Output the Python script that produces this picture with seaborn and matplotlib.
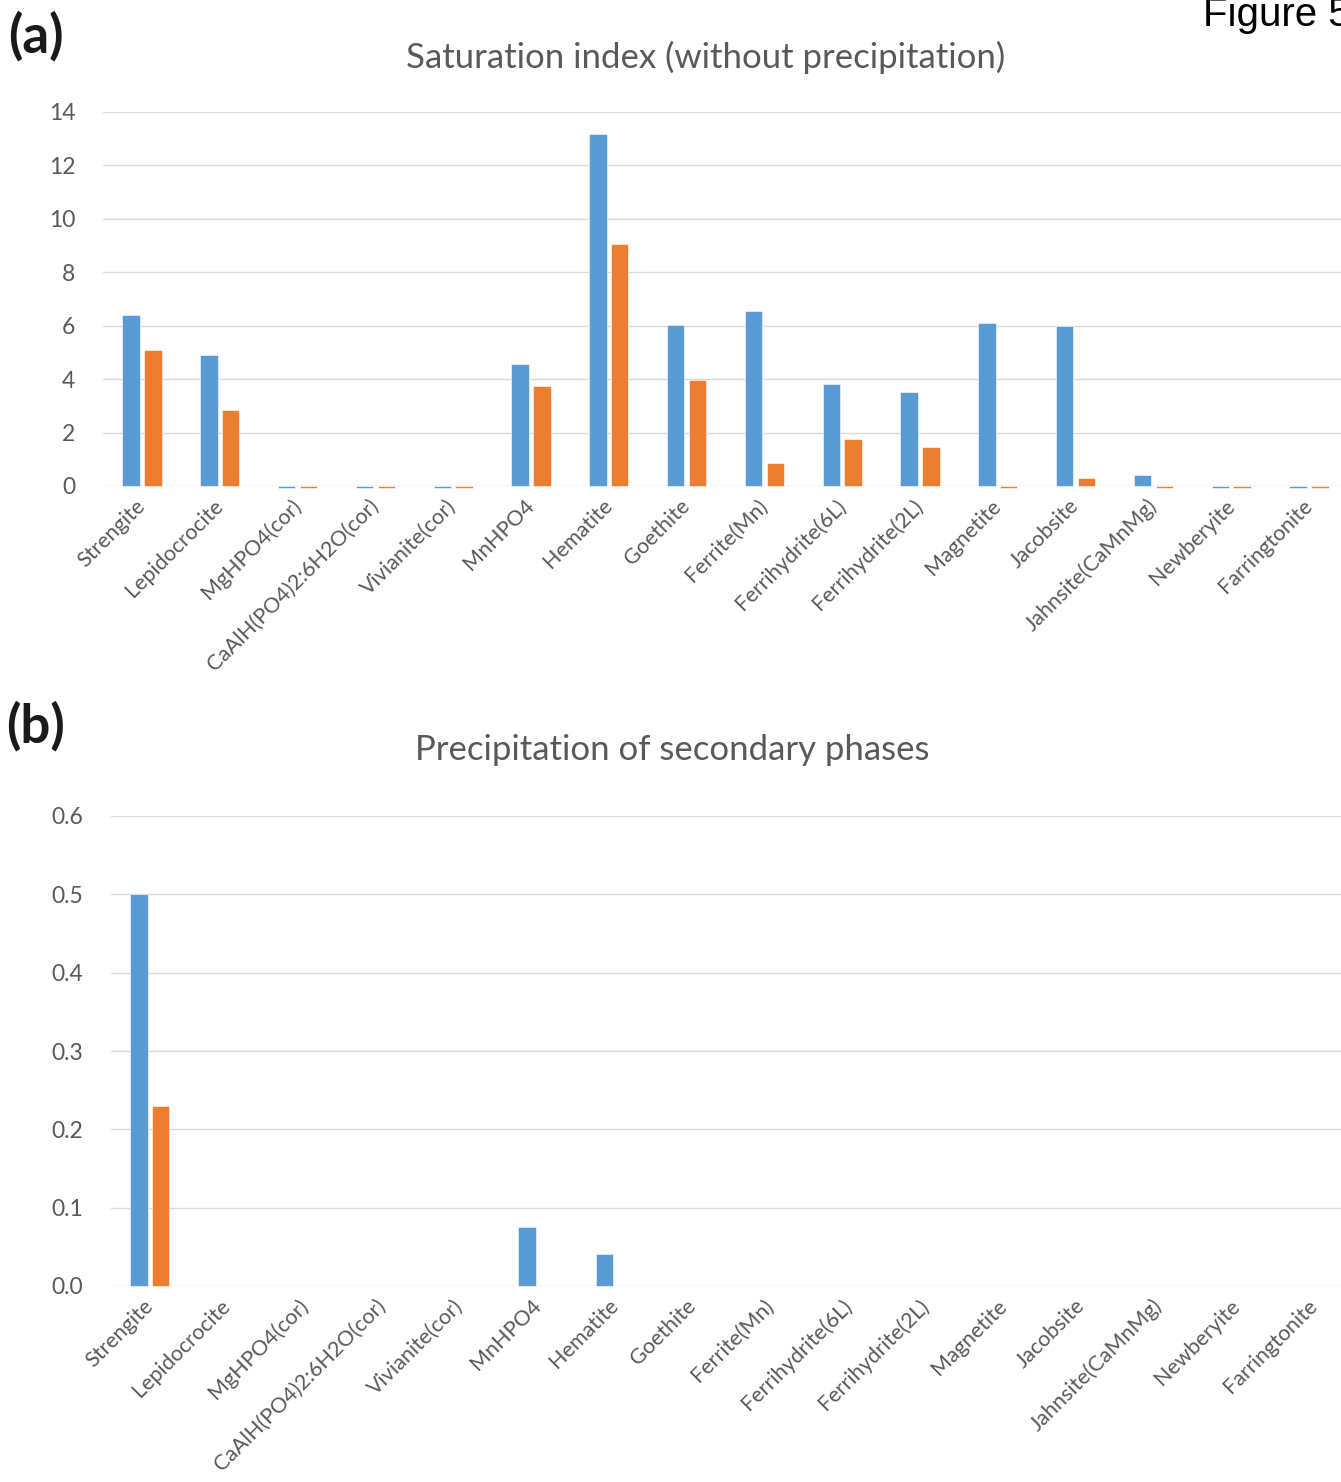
import matplotlib
matplotlib.use("Agg")
import matplotlib.pyplot as plt
import seaborn as sns
import pandas as pd

minerals = ["Strengite", "Lepidocrocite", "MgHPO4(cor)", "CaAlH(PO4)2:6H2O(cor)",
            "Vivianite(cor)", "MnHPO4", "Hematite", "Goethite", "Ferrite(Mn)",
            "Ferrihydrite(6L)", "Ferrihydrite(2L)", "Magnetite", "Jacobsite",
            "Jahnsite(CaMnMg)", "Newberyite", "Farringtonite"]
series_names = ["Series 1", "Series 2"]

# (a) saturation index without precipitation
si_series1 = [6.4, 4.9, -0.08, -0.08, -0.08, 4.57, 13.18, 6.03, 6.55,
              3.82, 3.52, 6.1, 6.0, 0.4, -0.08, -0.08]
si_series2 = [5.09, 2.85, -0.08, -0.08, -0.08, 3.74, 9.06, 3.97, 0.86,
              1.76, 1.46, -0.08, 0.3, -0.08, -0.08, -0.08]

# (b) precipitated amounts of secondary phases
pr_series1 = [0.5, 0, 0, 0, 0, 0.075, 0.041, 0, 0, 0, 0, 0, 0, 0, 0, 0]
pr_series2 = [0.23, 0, 0, 0, 0, 0, 0, 0, 0, 0, 0, 0, 0, 0, 0, 0]

si_ticks = [0, 2, 4, 6, 8, 10, 12, 14]
pr_ticks = [0.0, 0.1, 0.2, 0.3, 0.4, 0.5, 0.6]


def long_form(a, b):
    return pd.DataFrame({
        "mineral": minerals * 2,
        "series": [series_names[0]] * len(minerals) + [series_names[1]] * len(minerals),
        "value": list(a) + list(b),
    })


sns.set_theme(style="white")
plt.rcParams["font.family"] = ["Lato", "DejaVu Sans"]

BLUE = "#5B9BD5"
ORANGE = "#ED7D31"
GRID = "#D9D9D9"
TEXT = "#595959"
palette = {series_names[0]: BLUE, series_names[1]: ORANGE}

fig = plt.figure(figsize=(13.41, 14.82), dpi=100)
W, H = 1341, 1482


def px_axes(left, top, right, bottom):
    return fig.add_axes([left / W, 1 - bottom / H, (right - left) / W, (bottom - top) / H])


def style(ax, ticks, fmt, title, title_pos):
    ax.set_ylim(ticks[0], ticks[-1])
    ax.set_xlim(-0.5, len(minerals) - 0.5)
    ax.set_yticks(ticks)
    ax.set_yticklabels([fmt.format(t) for t in ticks])
    for t in ticks:
        ax.axhline(t, color=GRID, lw=1.0, zorder=0)
    for s in ax.spines.values():
        s.set_visible(False)
    ax.tick_params(axis="y", length=0, colors=TEXT, labelsize=16.5, pad=20)
    ax.tick_params(axis="x", length=0, colors=TEXT, labelsize=15.5, pad=12)
    ax.set_xlabel("")
    ax.set_ylabel("")
    for lab in ax.get_xticklabels():
        lab.set_rotation(45)
        lab.set_ha("right")
        lab.set_va("center")
        lab.set_rotation_mode("anchor")
    leg = ax.get_legend()
    if leg is not None:
        leg.remove()
    for p in ax.patches:
        p.set_clip_on(False)
    fig.text(title_pos[0] / W, 1 - title_pos[1] / H, title, ha="center", va="center",
             color=TEXT, fontsize=25)


ax1 = px_axes(103, 112, 1348, 486)
sns.barplot(data=long_form(si_series1, si_series2), x="mineral", y="value", hue="series",
            palette=palette, width=0.56, gap=0.2, ax=ax1, edgecolor="#FFFFFF",
            linewidth=0.4, saturation=1)
style(ax1, si_ticks, "{:g}", "Saturation index (without precipitation)", (706, 57))

ax2 = px_axes(111, 816, 1353, 1286)
sns.barplot(data=long_form(pr_series1, pr_series2), x="mineral", y="value", hue="series",
            palette=palette, width=0.56, gap=0.2, ax=ax2, edgecolor="#FFFFFF",
            linewidth=0.4, saturation=1)
style(ax2, pr_ticks, "{:.1f}", "Precipitation of secondary phases", (672, 750))

fig.text(8 / W, 1 - 36 / H, "(a)", ha="left", va="center", fontsize=38,
         fontweight="bold", color="#1a1a1a")
fig.text(6 / W, 1 - 726 / H, "(b)", ha="left", va="center", fontsize=38,
         fontweight="bold", color="#1a1a1a")
fig.text(1203 / W, 1 - 15 / H, "Figure 5", ha="left", va="center", fontsize=29,
         family=["Liberation Sans", "DejaVu Sans"], color="black")

fig.savefig("out.png", dpi=100, facecolor="white")
